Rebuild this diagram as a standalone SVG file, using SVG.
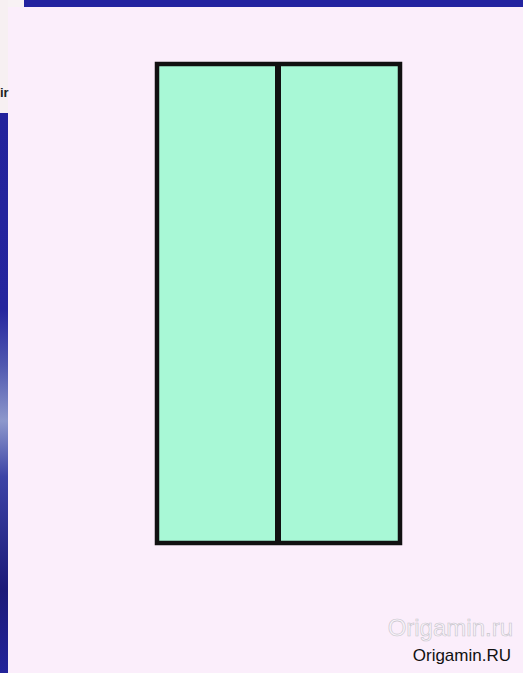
<svg xmlns="http://www.w3.org/2000/svg" width="523" height="673" viewBox="0 0 523 673">
<defs>
<linearGradient id="side" x1="0" y1="0" x2="0" y2="1">
<stop offset="0" stop-color="#23239c"/>
<stop offset="0.35" stop-color="#25259e"/>
<stop offset="0.45" stop-color="#5058b0"/>
<stop offset="0.55" stop-color="#8d98cc"/>
<stop offset="0.65" stop-color="#3d44a6"/>
<stop offset="0.85" stop-color="#1c1a78"/>
<stop offset="1" stop-color="#23239a"/>
</linearGradient>
</defs>
<style>
.wm1{font-family:"Liberation Sans",Arial,sans-serif;font-size:24px;fill:#f8f4fa;stroke:#c8c4cc;stroke-width:0.6;text-anchor:end}
.wm2{font-family:"Liberation Sans",Arial,sans-serif;font-size:17px;fill:#111111;text-anchor:end}
</style>
<rect width="523" height="673" fill="#fbeefb"/>
<rect x="24" y="0" width="499" height="7" fill="#2323a0"/>
<rect x="0" y="0" width="24" height="7" fill="#f8f2f4"/>
<rect x="0" y="0" width="8" height="113" fill="#f7f0f2"/>
<text x="0" y="97" font-family="Liberation Sans,Arial,sans-serif" font-size="13" font-weight="bold" fill="#222">ir</text>
<rect x="0" y="113" width="8" height="560" fill="url(#side)"/>
<g id="paper">
<rect x="157" y="64" width="243" height="479" fill="#a8f8d6" stroke="#111" stroke-width="4.5"/>
<line x1="278" y1="64" x2="278" y2="543" stroke="#111" stroke-width="6"/>
</g>
<text class="wm1" x="513" y="636">Origamin.ru</text>
<text class="wm2" x="511" y="661">Origamin.RU</text>
</svg>
